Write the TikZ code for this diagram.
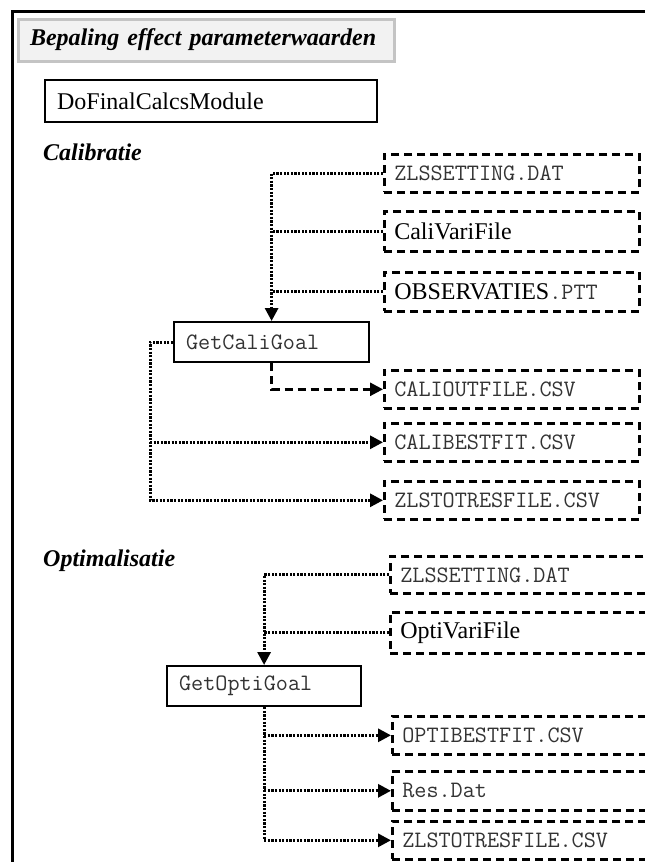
\documentclass[tikz,border=0pt]{standalone}
\usepackage{fontspec}
\setmainfont{Liberation Serif}
\usetikzlibrary{arrows.meta}
\definecolor{titlegray}{HTML}{C4C4C4}
\definecolor{titlefill}{HTML}{F2F2F2}
\definecolor{monotext}{HTML}{333333}
\begin{document}
\begin{tikzpicture}[x=1pt,y=-1pt,
  serif/.style={font=\fontsize{24}{28}\selectfont},
  mono/.style={font=\fontsize{23.5}{27}\selectfont\ttfamily, text=monotext},
  heading/.style={font=\fontsize{24}{28}\selectfont\bfseries\itshape, anchor=base west, inner sep=0pt},
  solidbox/.style={draw=black, line width=2.2pt, anchor=north west, inner xsep=12pt, inner ysep=0pt, align=left},
  filebox/.style={draw=black, line width=2.6pt, dash pattern=on 8pt off 5pt, anchor=north west,
    inner xsep=10pt, inner ysep=0pt, align=left},
  calfile/.style={filebox, text width=235pt},
  optfile/.style={filebox, text width=270pt},
  dotline/.style={line width=3pt, dash pattern=on 2.2pt off 1.4pt},
  dashline/.style={line width=2.6pt, dash pattern=on 8pt off 5pt},
  tip/.style={-{Triangle[length=13pt,width=13pt]}}
]
\clip (0,0) rectangle (645,862);
\fill[white] (0,0) rectangle (645,862);

% outer frame
\draw[line width=3.2pt] (12.5,880) -- (12.5,11.5) -- (680,11.5);

% title
\node[draw=titlegray, line width=3pt, fill=titlefill, anchor=north west,
  minimum width=376pt, minimum height=42pt, text width=358pt, inner xsep=9pt, inner ysep=0pt, align=left,
  font=\fontsize{24}{28}\selectfont\bfseries\itshape,
  path picture={
    \foreach \r in {0,...,9}{
      \pgfmathsetmacro{\yy}{19.5+\r*4.3}
      \pgfmathsetmacro{\off}{mod(\r,2)*3.5}
      \foreach \c in {0,...,54}{
        \fill[gray!70] (18+\off+\c*7,\yy) circle (0.8pt);
      }
    }
  }] (title) at (16.5,17.5) {\hbox{\hspace{3pt}Bepaling effect parameterwaarden}};

\node[solidbox, serif, minimum height=42pt, text width=308pt] (final) at (44,79) {DoFinalCalcsModule};

% Calibratie
\node[heading] (calhead) at (43,160) {Calibratie};
\node[calfile, mono, minimum height=38pt] (czls) at (383,153) {ZLSSETTING.DAT};
\node[calfile, serif, minimum height=40pt] (ccv) at (383,210) {CaliVariFile};
\node[calfile, serif, minimum height=39pt] (cobs) at (383,271) {OBSERVATIES{\fontsize{23.5}{27}\selectfont\ttfamily\color{monotext}.PTT}};
\node[solidbox, mono, minimum height=40pt, text width=171pt] (cg) at (173,321) {GetCaliGoal};
\node[calfile, mono, minimum height=38pt] (cout) at (383,369) {CALIOUTFILE.CSV};
\node[calfile, mono, minimum height=38pt] (cbest) at (383,422) {CALIBESTFIT.CSV};
\node[calfile, mono, minimum height=38pt] (ctot) at (383,480) {ZLSTOTRESFILE.CSV};

\draw[dotline, tip] (czls.west) -| (cg.north);
\draw[dotline] (ccv.west) -- (ccv.west -| cg.north);
\draw[dotline] (cobs.west) -- (cobs.west -| cg.north);
\draw[dashline, tip] (cg.south) |- (cout.west);
\coordinate (cgl) at ([xshift=-23pt]cg.west);
\draw[dotline, tip] (cg.west) -- (cgl) |- (ctot.west);
\draw[dotline, tip] (cgl |- cbest.west) -- (cbest.west);

% Optimalisatie
\node[heading] (opthead) at (43,566) {Optimalisatie};
\node[optfile, mono, minimum height=37pt] (ozls) at (389,555) {ZLSSETTING.DAT};
\node[optfile, serif, minimum height=41pt] (ocv) at (389,611) {OptiVariFile};
\node[solidbox, mono, minimum height=40pt, text width=170pt] (og) at (166,665) {GetOptiGoal};
\node[optfile, mono, minimum height=38pt] (obest) at (391,715) {OPTIBESTFIT.CSV};
\node[optfile, mono, minimum height=39pt] (ores) at (391,770) {Res.Dat};
\node[optfile, mono, minimum height=38pt] (otot) at (391,820) {ZLSTOTRESFILE.CSV};

\draw[dotline, tip] (ozls.west) -| (og.north);
\draw[dotline] (ocv.west) -- (ocv.west -| og.north);
\draw[dotline, tip] (og.south) |- (otot.west);
\draw[dotline, tip] (og.south |- obest.west) -- (obest.west);
\draw[dotline, tip] (og.south |- ores.west) -- (ores.west);
\end{tikzpicture}
\end{document}
